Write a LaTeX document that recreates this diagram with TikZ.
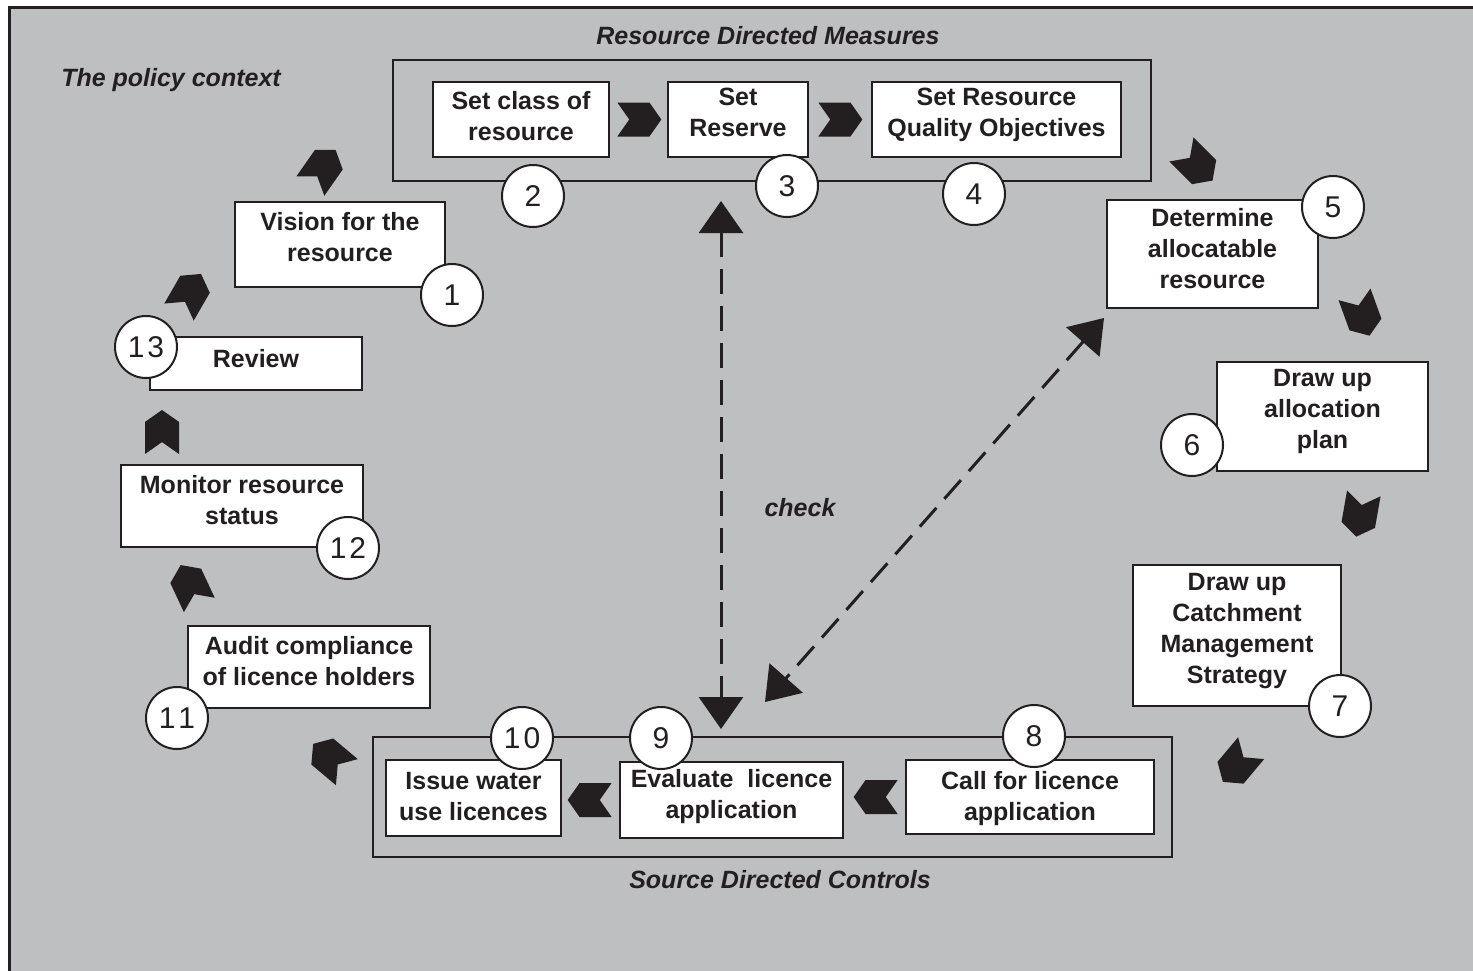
\documentclass[tikz,border=0pt]{standalone}
\usepackage{fontspec}
\setmainfont{Liberation Sans}
\usetikzlibrary{arrows.meta, positioning, shapes.symbols}

\definecolor{bggray}{RGB}{190,191,193}
\definecolor{ink}{RGB}{35,31,32}

\begin{document}
\begin{tikzpicture}[
    x=1pt, y=-1pt,
    stage/.style={draw=ink, fill=white, line width=2pt, align=center, inner sep=0pt,
                  font=\fontsize{25}{31}\selectfont\bfseries, text=ink},
    group/.style={draw=ink, line width=2.5pt, inner sep=0pt},
    num/.style={circle, draw=ink, fill=white, line width=2pt, minimum size=62pt,
                inner sep=0pt, font=\fontsize{30}{30}\selectfont, text=ink},
    chev/.style={signal, signal to=east, signal from=west, signal pointer angle=110,
                 fill=ink, minimum width=44pt, minimum height=34pt, inner sep=0pt},
    chevl/.style={chev, signal to=west, signal from=east},
    title/.style={font=\fontsize{25}{30}\selectfont\bfseries\itshape, text=ink},
    dbl/.style={{Triangle[width=44pt,length=32pt]}-{Triangle[width=44pt,length=32pt]},
                draw=ink, line width=3pt, dash pattern=on 25pt off 12pt}
]
\useasboundingbox (0,0) rectangle (1473,970);

% ---- Frame ----
\begin{scope}
    \clip (0,0) rectangle (1473,970);
    \draw[draw=ink, fill=bggray, line width=3pt] (9,7) rectangle (1500,1000);
\end{scope}

\node[title] (ctx) at (171,80) {The policy context};

% ---- RESOURCE DIRECTED MEASURES (top) ----
\node[title] (rdm_lbl) at (768,36) {Resource Directed Measures};
\node[group, minimum width=758pt, minimum height=121pt] (rdm) at (772,120.5) {};
\node[stage, minimum width=176pt, minimum height=75pt, text depth=8pt]  (s_class) at (521,119.5) {Set class of\\resource};
\node[stage, minimum width=140pt, minimum height=75pt, text depth=14pt] (s_res)   at (738,119.5) {Set\\Reserve};
\node[stage, minimum width=249pt, minimum height=75pt, text depth=15pt] (s_rqo)   at (996.5,119.5) {Set Resource\\Quality Objectives};
\node[chev, right=19pt of s_class] (c_23) {};
\node[chev, right=21pt of s_res]   (c_34) {};

% ---- Right side ----
\node[stage, minimum width=211pt, minimum height=108pt, text depth=12pt] (s_alloc) at (1212.5,254) {Determine\\allocatable\\resource};
\node[stage, minimum width=211pt, minimum height=109pt, text depth=15pt] (s_plan)  at (1322.5,416.5) {Draw up\\allocation\\plan};
\node[stage, minimum width=208pt, minimum height=141pt, text depth=15pt] (s_cms)   at (1237,635.5) {Draw up\\Catchment\\Management\\Strategy};

% ---- SOURCE DIRECTED CONTROLS (bottom) ----
\node[title] (sdc_lbl) at (780,880) {Source Directed Controls};
\node[group, minimum width=799pt, minimum height=120pt] (sdc) at (772.5,797) {};
\node[stage, minimum width=248pt, minimum height=74pt, text depth=3pt]  (s_call)  at (1030,797) {Call for licence\\application};
\node[stage, minimum width=223pt, minimum height=76pt, text depth=13pt] (s_eval)  at (731.5,800) {Evaluate~ licence\\application};
\node[stage, minimum width=175pt, minimum height=76pt, text depth=4pt]  (s_issue) at (473.5,798) {Issue water\\use licences};
\node[chevl, left=19pt of s_call] (c_89) {};
\node[chevl, left=19pt of s_eval] (c_910) {};

% ---- Left side ----
\node[stage, minimum width=242pt, minimum height=82pt, text depth=12pt] (s_audit)  at (309,667) {Audit compliance\\of licence holders};
\node[stage, minimum width=242pt, minimum height=82pt, text depth=12pt] (s_mon)    at (242,506) {Monitor resource\\status};
\node[stage, minimum width=212pt, minimum height=53pt, text depth=10pt] (s_review) at (256,363.5) {Review};
\node[stage, minimum width=210pt, minimum height=85pt, text depth=16pt] (s_vision) at (340,244.5) {Vision for the\\resource};

% ---- Chevrons round the cycle ----
\node[chev, rotate=55]   (c_12)   at (323,168) {};
\node[chev, rotate=-45]  (c_45)   at (1197,165) {};
\node[chev, rotate=-70]  (c_56)   at (1362,315) {};
\node[chev, rotate=-100] (c_67)   at (1360,515) {};
\node[chev, rotate=-130] (c_78)   at (1237,765) {};
\node[chev, rotate=140]  (c_1011) at (330,758) {};
\node[chev, rotate=115]  (c_1112) at (190,585) {};
\node[chev, rotate=90]   (c_1213) at (162,432) {};
\node[chev, rotate=60]   (c_131)  at (190,293) {};

% ---- Step numbers ----
\node[num] (n1)  at (452,295)  {1};
\node[num] (n2)  at (533,196)  {2};
\node[num] (n3)  at (787,186)  {3};
\node[num] (n4)  at (974,194)  {4};
\node[num] (n5)  at (1333,207) {5};
\node[num] (n6)  at (1192,445) {6};
\node[num] (n7)  at (1340,706) {7};
\node[num] (n8)  at (1034,736) {8};
\node[num] (n9)  at (661,738)  {9};
\node[num] (n10) at (522,738)  {1\kern3pt 0};
\node[num] (n11) at (177,718)  {1\kern3pt 1};
\node[num] (n12) at (348,548)  {1\kern3pt 2};
\node[num] (n13) at (146,347)  {1\kern3pt 3};

% ---- check arrows ----
\coordinate (chk_top) at (721,201);
\coordinate (chk_bot) at (721,729);
\coordinate (chk_ne)  at (1104,318);
\coordinate (chk_sw)  at (765,702);
\draw[dbl] (chk_top) -- (chk_bot);
\draw[dbl] (chk_ne) -- (chk_sw);
\node[title] (chk) at (800,508) {check};

\end{tikzpicture}
\end{document}
